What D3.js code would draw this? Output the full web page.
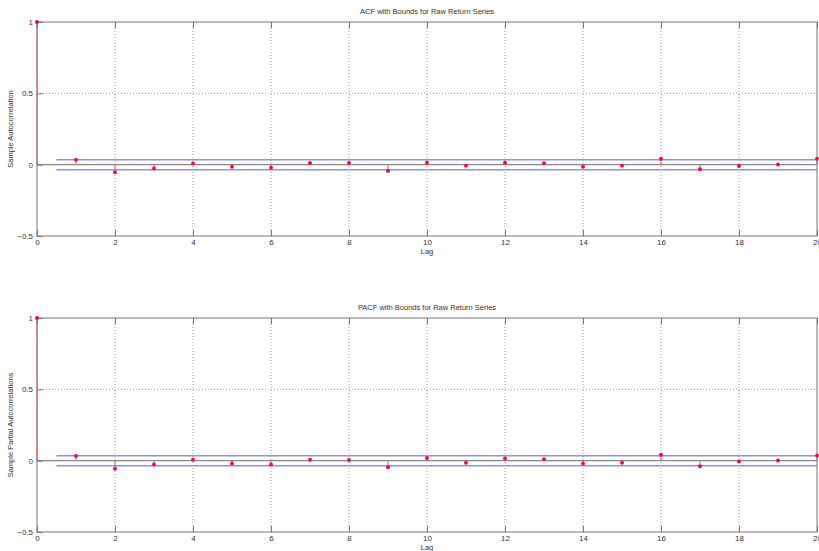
<!DOCTYPE html>
<html>
<head>
<meta charset="utf-8">
<script src="https://cdn.jsdelivr.net/npm/d3@7"></script>
<style>
  body { margin: 0; background: #fff; }
  svg { display: block; font-family: "Liberation Sans", Arial, sans-serif; }
  .tick text { fill: #333; font-size: 8px; }
  .grid line { stroke: #999; stroke-dasharray: 1,2; }
</style>
</head>
<body>
<div id="chart"></div>
<script>
var lags = d3.range(0, 21);
var acfValues = [1, 0.035, -0.054, -0.026, 0.009, -0.014, -0.021, 0.012, 0.012, -0.044,
  0.014, -0.007, 0.013, 0.010, -0.014, -0.008, 0.042, -0.033, -0.010, 0.002, 0.042];
var pacfValues = [1, 0.032, -0.056, -0.026, 0.007, -0.020, -0.026, 0.007, 0.004, -0.047,
  0.018, -0.014, 0.015, 0.010, -0.020, -0.014, 0.042, -0.040, -0.005, 0.001, 0.037];
var bound = 0.035;
var xTicks = [0, 2, 4, 6, 8, 10, 12, 14, 16, 18, 20];
var yTicks = [-0.5, 0, 0.5, 1];

var width = 819, height = 551;
var svg = d3.select("#chart").append("svg")
  .attr("width", width).attr("height", height);

var panels = [
  { title: "ACF with Bounds for Raw Return Series", ylabel: "Sample Autocorrelation",
    values: acfValues, top: 22, bottom: 236 },
  { title: "PACF with Bounds for Raw Return Series", ylabel: "Sample Partial Autocorrelations",
    values: pacfValues, top: 318, bottom: 532 }
];

var left = 37, right = 817;

panels.forEach(function(p) {
  var x = d3.scaleLinear().domain([0, 20]).range([left, right]);
  var y = d3.scaleLinear().domain([-0.5, 1]).range([p.bottom, p.top]);
  var g = svg.append("g");

  // grid
  g.append("g").attr("class", "grid")
    .selectAll("line").data(xTicks.slice(1, -1)).enter().append("line")
    .attr("x1", d => x(d)).attr("x2", d => x(d))
    .attr("y1", p.top).attr("y2", p.bottom);
  g.append("g").attr("class", "grid")
    .selectAll("line").data([0.5]).enter().append("line")
    .attr("x1", left).attr("x2", right)
    .attr("y1", d => y(d)).attr("y2", d => y(d));

  // zero line
  g.append("line")
    .attr("x1", left).attr("x2", right)
    .attr("y1", y(0)).attr("y2", y(0))
    .attr("stroke", "#888").attr("stroke-width", 1.2);

  // bounds
  g.selectAll(".bound").data([bound, -bound]).enter().append("line")
    .attr("class", "bound")
    .attr("x1", x(0.5)).attr("x2", x(20))
    .attr("y1", d => y(d)).attr("y2", d => y(d))
    .attr("stroke", "#8c8cff").attr("stroke-width", 1.5);

  // stems
  g.selectAll(".stem").data(lags).enter().append("line")
    .attr("class", "stem")
    .attr("x1", d => x(d)).attr("x2", d => x(d))
    .attr("y1", y(0)).attr("y2", d => y(p.values[d]))
    .attr("stroke", "#f05050").attr("stroke-width", 1);

  // box
  g.append("rect")
    .attr("x", left).attr("y", p.top)
    .attr("width", right - left).attr("height", p.bottom - p.top)
    .attr("fill", "none").attr("stroke", "#777").attr("stroke-width", 1);

  // axes with inward ticks
  var xAxis = d3.axisBottom(x).tickValues(xTicks).tickSizeInner(-6).tickSizeOuter(0).tickPadding(3);
  g.append("g").attr("transform", "translate(0," + p.bottom + ")").call(xAxis)
    .call(a => a.select(".domain").remove())
    .call(a => a.selectAll(".tick line").attr("stroke", "#777"));
  g.append("g").attr("transform", "translate(0," + p.top + ")")
    .call(d3.axisTop(x).tickValues(xTicks).tickSizeInner(-6).tickSizeOuter(0).tickFormat(""))
    .call(a => a.select(".domain").remove())
    .call(a => a.selectAll(".tick line").attr("stroke", "#777"));
  g.append("g").attr("transform", "translate(" + left + ",0)")
    .call(d3.axisLeft(y).tickValues(yTicks).tickSizeInner(-6).tickSizeOuter(0).tickPadding(4)
      .tickFormat(d3.format("")))
    .call(a => a.select(".domain").remove())
    .call(a => a.selectAll(".tick line").attr("stroke", "#777"));

  g.selectAll(".pt").data(lags).enter().append("circle")
    .attr("class", "pt")
    .attr("cx", d => x(d)).attr("cy", d => y(p.values[d]))
    .attr("r", 2).attr("fill", "#ee1133");

  // labels
  g.append("text").attr("x", (left + right) / 2).attr("y", p.top - 8)
    .attr("text-anchor", "middle").attr("font-size", 7.5).attr("fill", "#333")
    .text(p.title);
  g.append("text").attr("x", (left + right) / 2).attr("y", p.bottom + 18)
    .attr("text-anchor", "middle").attr("font-size", 7.5).attr("fill", "#333")
    .text("Lag");
  g.append("text")
    .attr("transform", "translate(13," + (p.top + p.bottom) / 2 + ") rotate(-90)")
    .attr("text-anchor", "middle").attr("font-size", 7.5).attr("fill", "#333")
    .text(p.ylabel);
});
</script>
</body>
</html>
